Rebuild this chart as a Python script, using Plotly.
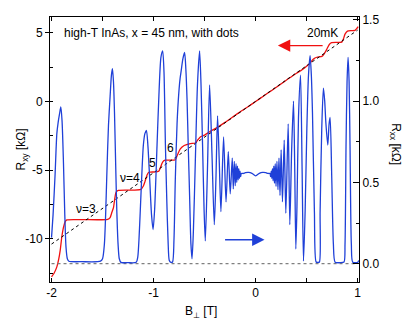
import plotly.graph_objects as go

# R_xx (right axis): field [T], resistance [kOhm]
b_xx = [-2.000, -1.985, -1.965, -1.948, -1.935, -1.922, -1.909, -1.897, -1.883, -1.870,
        -1.858, -1.845, -1.830, -1.700, -1.520, -1.500, -1.482, -1.470, -1.459, -1.442,
        -1.426, -1.413, -1.403, -1.393, -1.383, -1.370, -1.360, -1.348, -1.336, -1.320,
        -1.250, -1.170, -1.155, -1.143, -1.130, -1.115, -1.100, -1.085, -1.070, -1.055,
        -1.038, -1.020, -1.005, -0.990, -0.966, -0.945, -0.928, -0.911, -0.898, -0.884,
        -0.870, -0.858, -0.846, -0.830, -0.814, -0.800, -0.787, -0.770, -0.754, -0.740,
        -0.731, -0.713, -0.696, -0.684, -0.672, -0.660, -0.647, -0.634, -0.623, -0.610,
        -0.591, -0.570, -0.549, -0.535, -0.520, -0.505, -0.493, -0.472, -0.451, -0.428,
        -0.405, -0.389, -0.373, -0.356, -0.340, -0.314, -0.290, -0.268, -0.249, -0.229,
        -0.219, -0.209, -0.200, -0.192, -0.185, -0.178, -0.171, -0.165, -0.159, -0.153,
        -0.147, -0.140, -0.120, -0.100, -0.069, -0.036, -0.014, 0.000, 0.014, 0.036,
        0.069, 0.100, 0.120, 0.140, 0.147, 0.153, 0.159, 0.165, 0.171, 0.178,
        0.185, 0.192, 0.200, 0.209, 0.219, 0.229, 0.239, 0.250, 0.263, 0.280,
        0.296, 0.319, 0.335, 0.353, 0.371, 0.383, 0.394, 0.405, 0.420, 0.440,
        0.455, 0.469, 0.485, 0.502, 0.518, 0.534, 0.546, 0.557, 0.576, 0.593,
        0.610, 0.625, 0.632, 0.648, 0.664, 0.677, 0.688, 0.707, 0.720, 0.730,
        0.746, 0.762, 0.779, 0.830, 0.866, 0.876, 0.886, 0.896, 0.906, 0.916,
        0.925, 0.938, 0.952, 1.000, 1.010]
r_xx = [0.16, 0.30, 0.55, 0.80, 0.87, 0.92, 0.965, 0.88, 0.62, 0.30,
        0.10, 0.03, 0.015, 0.012, 0.015, 0.03, 0.12, 0.30, 0.53, 0.85,
        1.03, 1.16, 1.20, 1.12, 0.93, 0.57, 0.32, 0.12, 0.03, 0.008,
        0.006, 0.008, 0.04, 0.15, 0.33, 0.55, 0.73, 0.80, 0.82, 0.72,
        0.52, 0.30, 0.21, 0.33, 0.73, 1.08, 1.27, 1.31, 1.18, 0.73,
        0.38, 0.14, 0.02, 0.008, 0.01, 0.15, 0.52, 0.86, 1.04, 1.14,
        1.18, 1.26, 1.30, 1.20, 1.01, 0.72, 0.42, 0.12, 0.03, 0.20,
        0.63, 1.10, 1.31, 1.10, 0.73, 0.33, 0.14, 0.58, 1.10, 0.68,
        0.24, 0.52, 0.91, 0.62, 0.32, 0.78, 0.38, 0.69, 0.43, 0.65,
        0.46, 0.63, 0.48, 0.615, 0.50, 0.60, 0.515, 0.585, 0.525, 0.57,
        0.535, 0.555, 0.555, 0.560, 0.562, 0.556, 0.546, 0.540, 0.546, 0.556,
        0.562, 0.560, 0.555, 0.555, 0.535, 0.57, 0.525, 0.585, 0.51, 0.60,
        0.495, 0.615, 0.475, 0.63, 0.455, 0.65, 0.42, 0.70, 0.38, 0.76,
        0.31, 0.86, 0.24, 0.70, 1.00, 0.60, 0.09, 0.35, 0.90, 1.16,
        0.60, 0.016, 0.32, 0.83, 1.16, 1.28, 1.16, 0.93, 0.32, 0.01,
        0.008, 0.01, 0.32, 0.83, 1.08, 1.00, 0.87, 0.73, 0.86, 0.90,
        0.53, 0.12, 0.009, 0.006, 0.01, 0.12, 0.73, 1.12, 1.27, 1.12,
        0.73, 0.12, 0.009, 0.008, 0.02]

# R_xy (left axis)
b_xy = [-2.000, -1.975, -1.948, -1.930, -1.915, -1.900, -1.883, -1.866, -1.850, -1.700,
        -1.450, -1.426, -1.410, -1.393, -1.380, -1.367, -1.345, -1.200, -1.125, -1.100,
        -1.085, -1.064, -1.047, -0.990, -0.950, -0.935, -0.917, -0.900, -0.885, -0.787,
        -0.770, -0.738, -0.700, -0.640, -0.591, -0.565, -0.542, -0.500, -0.450, -0.379,
        -0.300, -0.225, -0.151, -0.075, 0.000, 0.075, 0.150, 0.225, 0.300, 0.350,
        0.400, 0.436, 0.470, 0.502, 0.534, 0.567, 0.600, 0.649, 0.670, 0.697,
        0.722, 0.745, 0.800, 0.844, 0.860, 0.876, 0.900, 0.940, 0.975, 0.990,
        1.005]
r_xy = [-12.76, -12.50, -12.04, -11.50, -10.84, -9.90, -9.17, -8.75, -8.62, -8.60,
        -8.58, -8.45, -8.10, -7.73, -7.05, -6.60, -6.47, -6.45, -6.40, -6.15,
        -5.85, -5.35, -5.15, -5.13, -5.08, -4.85, -4.50, -4.32, -4.27, -4.24,
        -3.95, -3.45, -3.20, -3.06, -3.02, -2.78, -2.58, -2.45, -2.20, -1.90,
        -1.52, -1.13, -0.75, -0.38, 0.00, 0.38, 0.77, 1.15, 1.55, 1.80,
        2.05, 2.22, 2.38, 2.58, 2.80, 3.10, 3.22, 3.28, 3.45, 3.80,
        4.15, 4.28, 4.30, 4.32, 4.55, 4.90, 5.12, 5.16, 5.18, 5.30,
        5.45]

# classical Hall line and R_xx = 0 reference
b_line = [-2.0, 1.0]
r_line = [-10.38, 5.20]
r_zero = [0.0, 0.0]

x_ticks = [-2, -1, 0, 1]
x_labels = ["-2", "-1", "0", "1"]
y_ticks = [-10, -5, 0, 5]
y_labels = ["-10", "-5", "0", "5"]
y2_ticks = [0.0, 0.5, 1.0, 1.5]
y2_labels = ["0.0", "0.5", "1.0", "1.5"]

FONT = "Liberation Sans, Arial, sans-serif"
BLUE = "#1f40d8"
RED = "#f01010"

fig = go.Figure()
fig.add_trace(go.Scatter(x=b_line, y=r_zero, yaxis="y2", mode="lines",
                         line=dict(color="#808080", width=1.2, dash="dot")))
fig.add_trace(go.Scatter(x=b_xy, y=r_xy, mode="lines",
                         line=dict(color=RED, width=1.3, shape="spline", smoothing=0.6)))
fig.add_trace(go.Scatter(x=b_line, y=r_line, mode="lines",
                         line=dict(color="black", width=1, dash="dot")))
fig.add_trace(go.Scatter(x=b_xx, y=r_xx, yaxis="y2", mode="lines",
                         line=dict(color=BLUE, width=1.3, shape="spline", smoothing=0.7)))

ann = [
    dict(x=-1.90, y=5.0, text="high-T InAs, x = 45 nm, with dots", xanchor="left"),
    dict(x=0.485, y=5.0, text="20mK", xanchor="left"),
    dict(x=-1.667, y=-7.82, text="ν=3"),
    dict(x=-1.236, y=-5.6, text="ν=4"),
    dict(x=-1.008, y=-4.5, text="5"),
    dict(x=-0.835, y=-3.42, text="6"),
]
for a in ann:
    a.update(xref="x", yref="y", showarrow=False, yanchor="middle",
             font=dict(family=FONT, size=12, color="black"))
    fig.add_annotation(**a)

# arrows: red points to the left axis, blue to the right axis
fig.add_annotation(x=0.218, y=4.07, ax=0.671, ay=4.07, xref="x", yref="y",
                   axref="x", ayref="y", text="", showarrow=True, arrowhead=2,
                   arrowsize=1.9, arrowwidth=1.3, arrowcolor=RED)
fig.add_annotation(x=0.087, y=0.147, ax=-0.314, ay=0.147, xref="x", yref="y2",
                   axref="x", ayref="y2", text="", showarrow=True, arrowhead=2,
                   arrowsize=1.9, arrowwidth=1.3, arrowcolor=BLUE)

# axis titles
fig.add_annotation(x=-0.123, y=0.5, xref="paper", yref="paper",
                   text="R<sub>xy</sub> [kΩ]", textangle=-90, showarrow=False,
                   font=dict(family=FONT, size=12, color="black"))
fig.add_annotation(x=1.149, y=0.52, xref="paper", yref="paper",
                   text="R<sub>xx</sub> [kΩ]", textangle=90, showarrow=False,
                   font=dict(family=FONT, size=12, color="black"))
fig.add_annotation(x=0.489, y=-0.115, xref="paper", yref="paper",
                   text="B<sub>⊥</sub> [T]", showarrow=False, yanchor="middle",
                   font=dict(family=FONT, size=12, color="black"))

fig.update_layout(
    width=415, height=327,
    # page body adds 8px offset, margins compensate
    margin=dict(l=42, r=64, t=5, b=53),
    paper_bgcolor="white", plot_bgcolor="white",
    showlegend=False,
    font=dict(family=FONT, size=12, color="black"),
    xaxis=dict(range=[-2.015, 1.013], tickmode="array", tickvals=x_ticks, ticktext=x_labels,
               ticks="inside", ticklen=4, tickcolor="black", showline=True,
               linecolor="black", linewidth=1, mirror="ticks", showgrid=False, zeroline=False,
               minor=dict(tickmode="linear", tick0=0, dtick=0.5, ticks="inside",
                          ticklen=4, tickcolor="black")),
    yaxis=dict(range=[-13.14, 6.15], tickmode="array", tickvals=y_ticks, ticktext=y_labels,
               ticks="outside", ticklen=4, tickcolor="black", showline=True,
               linecolor="black", linewidth=1, showgrid=False, zeroline=False,
               minor=dict(tickmode="linear", tick0=0, dtick=2.5, ticks="inside",
                          ticklen=3, tickcolor="black")),
    yaxis2=dict(range=[-0.113, 1.518], overlaying="y", side="right",
                tickmode="array", tickvals=y2_ticks, ticktext=y2_labels,
                ticks="inside", ticklen=6, tickcolor="black", showline=True,
                linecolor="black", linewidth=1, showgrid=False, zeroline=False,
                minor=dict(tickmode="linear", tick0=0, dtick=0.25, ticks="inside",
                           ticklen=3, tickcolor="black")),
)

fig.write_html("out.html")
